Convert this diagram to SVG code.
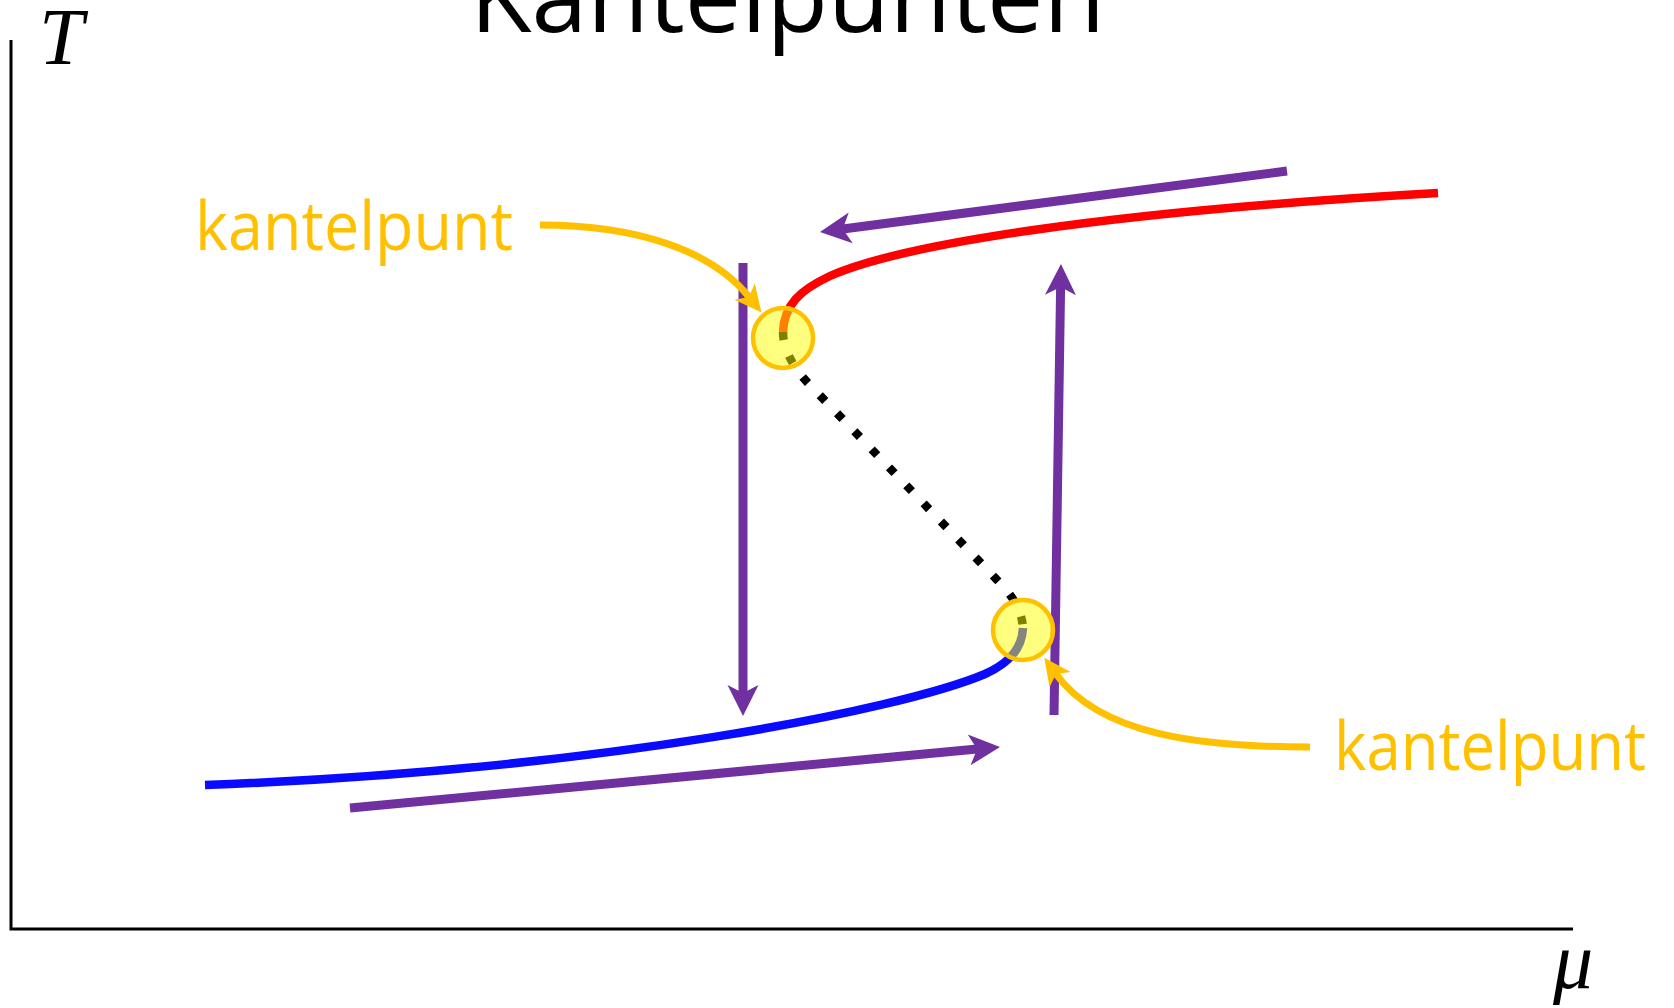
<svg xmlns="http://www.w3.org/2000/svg" width="1674" height="1008" viewBox="0 0 1674 1008">
<style>
.axis{stroke:#000;stroke-width:3;fill:none}
.math{font-family:"Liberation Serif","DejaVu Serif",serif;font-style:italic;fill:#000}
.title{font-family:"Open Sans","Liberation Sans",sans-serif;font-size:100px;fill:#000}
.lbl{font-family:"Open Sans","Liberation Sans",sans-serif;font-size:68px;fill:#FFC000}
.curve{fill:none;stroke-width:8.5}
.parr{stroke:#7030A0;stroke-width:9;fill:none;marker-end:url(#ph)}
.oarr{stroke:#FFC000;stroke-width:7;fill:none;marker-end:url(#oh)}
.hl{fill:#FFFF00;fill-opacity:0.5;stroke:#FFC000;stroke-width:4.5}
</style>
<defs>
<marker id="ph" markerUnits="userSpaceOnUse" viewBox="-9 -16 33 32" markerWidth="33" markerHeight="32" refX="0" refY="0" orient="auto">
<path d="M0,0 L-8,-15.5 L23,0 L-8,15.5 Z" fill="#7030A0"/>
</marker>
<marker id="oh" markerUnits="userSpaceOnUse" viewBox="-8 -14 30 28" markerWidth="30" markerHeight="28" refX="0" refY="0" orient="auto">
<path d="M0,0 L-7,-13 L20,0 L-7,13 Z" fill="#FFC000"/>
</marker>
</defs>
<rect width="1674" height="1008" fill="#fff"/>
<g id="axes">
<path class="axis" d="M11,40 L11,929 L1573,929"/>
<text class="math" x="39" y="64" font-size="80">T</text>
<text class="math" x="1553" y="988" font-size="80">μ</text>
</g>
<text id="title" class="title" x="470" y="32" textLength="635" lengthAdjust="spacingAndGlyphs">Kantelpunten</text>
<g id="curves">
<path id="upper-branch" class="curve" stroke="#FF0000" d="M783,332 C784,305 800,290 830,276 C900,245 1100,212 1438,193"/>
<path id="unstable-branch" class="curve" stroke="#000" stroke-width="8" stroke-dasharray="8 17" d="M783,332 C783,350 795,370 809,384 L1000,583 C1015,598 1023,615 1023,630"/>
<path id="lower-branch" class="curve" stroke="#0A0AFF" d="M1023,628 C1022,650 1008,664 985,674 C900,710 600,770 205,785"/>
</g>
<g id="connectors">
<path class="parr" d="M1287,171 L842.8,229"/>
<path class="parr" d="M743,263 L743,693"/>
<path class="parr" d="M350,808 L977.1,749.1"/>
<path class="parr" d="M1054,715 L1060.6,287"/>
</g>
<g id="tipping-point-1">
<circle class="hl" cx="783" cy="338" r="30"/>
</g>
<g id="tipping-point-2">
<circle class="hl" cx="1023" cy="630" r="30"/>
</g>
<g id="label-1">
<text class="lbl" x="195" y="250" textLength="318" lengthAdjust="spacingAndGlyphs">kantelpunt</text>
<path class="oarr" d="M540,225 C640,225 713,252 749,297"/>
</g>
<g id="label-2">
<text class="lbl" x="1334" y="770" textLength="312" lengthAdjust="spacingAndGlyphs">kantelpunt</text>
<path class="oarr" d="M1310,747 C1200,747 1100,735 1056,674"/>
</g>
</svg>
